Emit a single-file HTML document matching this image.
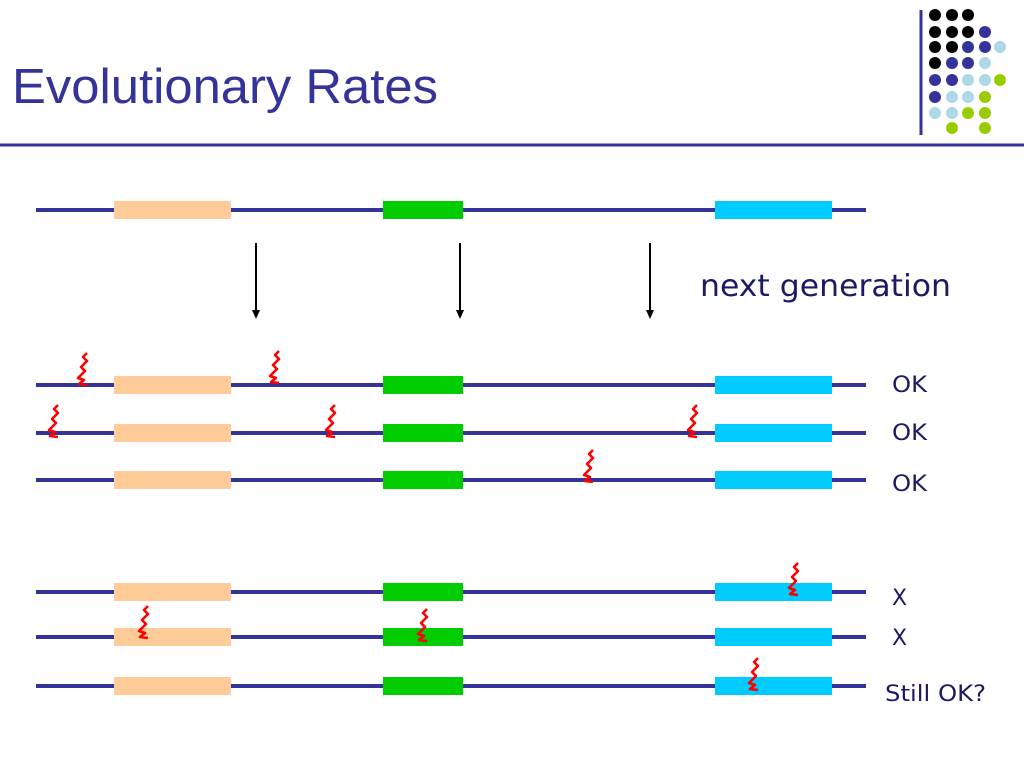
<!DOCTYPE html>
<html><head><meta charset="utf-8"><style>
html,body{margin:0;padding:0;background:#fff;}
svg{display:block;}
</style></head><body>
<svg width="1024" height="768" viewBox="0 0 1024 768" xmlns="http://www.w3.org/2000/svg">
<defs>
<path id="sq" d="M9,-32 L5,-28 L9,-24 L3,-18 L7,-14 L0,-7 L6,-5 L1,-1 L9,0" fill="none" stroke="#ff0000" stroke-width="2.6" stroke-linejoin="round"/>
<g id="row">
<line x1="36" y1="0" x2="866" y2="0" stroke="#333399" stroke-width="4"/>
<rect x="114" y="-9" width="117" height="18" fill="#ffcc99"/>
<rect x="383" y="-9" width="80" height="18" fill="#00cc00"/>
<rect x="715" y="-9" width="117" height="18" fill="#00ccff"/>
</g>
</defs>
<text x="12" y="103" font-family="Liberation Sans, sans-serif" font-size="49" fill="#333399" textLength="426" lengthAdjust="spacingAndGlyphs">Evolutionary Rates</text>
<line x1="0" y1="145" x2="1024" y2="145" stroke="#333399" stroke-width="3"/>
<line x1="921" y1="10" x2="921" y2="135" stroke="#333399" stroke-width="3"/>
<g>
<circle cx="935" cy="15" r="6" fill="#000"/><circle cx="952" cy="15" r="6" fill="#000"/><circle cx="968" cy="15" r="6" fill="#000"/>
<circle cx="935" cy="32" r="6" fill="#000"/><circle cx="952" cy="32" r="6" fill="#000"/><circle cx="968" cy="32" r="6" fill="#000"/><circle cx="985" cy="32" r="6" fill="#333399"/>
<circle cx="935" cy="47" r="6" fill="#000"/><circle cx="952" cy="47" r="6" fill="#000"/><circle cx="968" cy="47" r="6" fill="#333399"/><circle cx="985" cy="47" r="6" fill="#333399"/><circle cx="1000" cy="47" r="6" fill="#add8e6"/>
<circle cx="935" cy="63" r="6" fill="#000"/><circle cx="952" cy="63" r="6" fill="#333399"/><circle cx="968" cy="63" r="6" fill="#333399"/><circle cx="985" cy="63" r="6" fill="#add8e6"/>
<circle cx="935" cy="80" r="6" fill="#333399"/><circle cx="952" cy="80" r="6" fill="#333399"/><circle cx="968" cy="80" r="6" fill="#add8e6"/><circle cx="985" cy="80" r="6" fill="#add8e6"/><circle cx="1000" cy="80" r="6" fill="#99cc00"/>
<circle cx="935" cy="97" r="6" fill="#333399"/><circle cx="952" cy="97" r="6" fill="#add8e6"/><circle cx="968" cy="97" r="6" fill="#add8e6"/><circle cx="985" cy="97" r="6" fill="#99cc00"/>
<circle cx="935" cy="113" r="6" fill="#add8e6"/><circle cx="952" cy="113" r="6" fill="#add8e6"/><circle cx="968" cy="113" r="6" fill="#99cc00"/><circle cx="985" cy="113" r="6" fill="#99cc00"/>
<circle cx="952" cy="128" r="6" fill="#99cc00"/><circle cx="985" cy="128" r="6" fill="#99cc00"/>
</g>
<use href="#row" y="210"/>
<g stroke="#000" stroke-width="2"><line x1="256" y1="243" x2="256" y2="312"/><line x1="460" y1="243" x2="460" y2="312"/><line x1="650" y1="243" x2="650" y2="312"/></g>
<g fill="#000"><polygon points="252,310 260,310 256,319"/><polygon points="456,310 464,310 460,319"/><polygon points="646,310 654,310 650,319"/></g>
<text x="700" y="296" font-family="DejaVu Sans, sans-serif" font-size="30" fill="#1a1a66" textLength="251" lengthAdjust="spacingAndGlyphs">next generation</text>
<use href="#row" y="385"/><use href="#row" y="433"/><use href="#row" y="480"/>
<use href="#row" y="592"/><use href="#row" y="637"/><use href="#row" y="686"/>
<use href="#sq" x="78" y="385"/><use href="#sq" x="270" y="383"/>
<use href="#sq" x="49" y="437"/><use href="#sq" x="326" y="437"/><use href="#sq" x="688" y="437"/>
<use href="#sq" x="584" y="482"/>
<use href="#sq" x="789" y="595"/><use href="#sq" x="139" y="638"/><use href="#sq" x="418" y="641"/>
<use href="#sq" x="749" y="690"/>
<g font-family="DejaVu Sans, sans-serif" font-size="22" fill="#1a1a66">
<text x="892" y="392" textLength="35" lengthAdjust="spacingAndGlyphs">OK</text><text x="892" y="440" textLength="35" lengthAdjust="spacingAndGlyphs">OK</text><text x="892" y="491" textLength="35" lengthAdjust="spacingAndGlyphs">OK</text>
<text x="892" y="605">X</text><text x="892" y="645">X</text><text x="885" y="701" textLength="101" lengthAdjust="spacingAndGlyphs">Still OK?</text>
</g>
</svg>
</body></html>
